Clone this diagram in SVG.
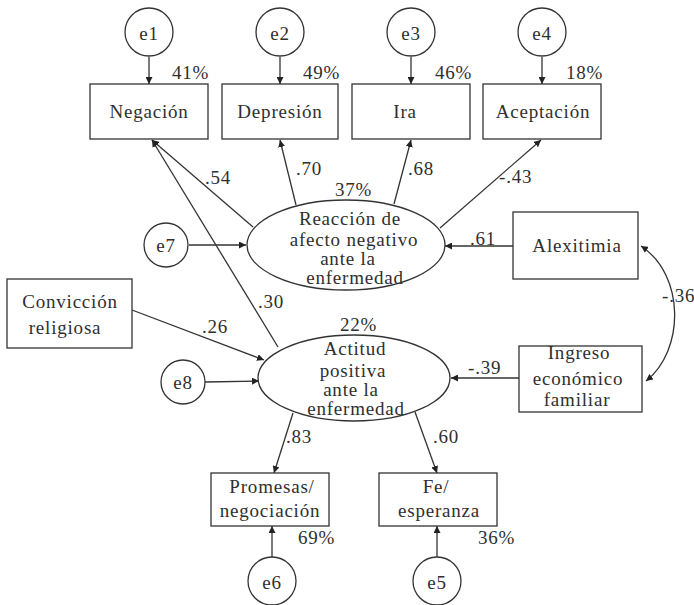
<svg xmlns="http://www.w3.org/2000/svg" width="694" height="605" viewBox="0 0 694 605">
<defs>
<marker id="ah" viewBox="0 0 10 10" refX="10" refY="5" markerWidth="7" markerHeight="7" markerUnits="userSpaceOnUse" orient="auto-start-reverse">
<path d="M0,0 L10,5 L0,10 z" fill="#222"/>
</marker>
<style>
text{font-family:"Liberation Serif","Times New Roman",serif;font-size:19px;fill:#2f2f2f;letter-spacing:0.8px}
.c{text-anchor:middle}
.n rect,.n ellipse,.n circle{fill:#fff;stroke:#333;stroke-width:1.3}
.e line,.e path{stroke:#333;stroke-width:1.3;fill:none;marker-end:url(#ah)}
</style>
</defs>
<rect width="694" height="605" fill="#fff"/>
<g id="connectors" class="e">
<line x1="149" y1="57" x2="149" y2="84"/>
<line x1="280" y1="57" x2="280" y2="84"/>
<line x1="411" y1="57" x2="411" y2="84"/>
<line x1="542" y1="57" x2="542" y2="84"/>
<line x1="253" y1="227" x2="152" y2="140"/>
<line x1="296" y1="205" x2="280" y2="140"/>
<line x1="394" y1="204" x2="411" y2="140"/>
<line x1="440" y1="228" x2="541" y2="140"/>
<line x1="278" y1="347" x2="152" y2="140"/>
<line x1="189" y1="245" x2="246" y2="245"/>
<line x1="205" y1="382" x2="259" y2="381"/>
<line x1="132" y1="310" x2="264" y2="360"/>
<line x1="513" y1="246" x2="445" y2="246"/>
<line x1="519" y1="378" x2="451" y2="378"/>
<line x1="293" y1="413" x2="274" y2="473"/>
<line x1="415" y1="412" x2="437" y2="473"/>
<line x1="272" y1="557" x2="272" y2="526"/>
<line x1="437" y1="557" x2="437" y2="526"/>
<path d="M641,246 C685,275 685,350 646,381" style="marker-start:url(#ah)"/>
</g>
<g id="e1" class="n"><circle cx="149" cy="32" r="24"/><text class="c" x="149" y="40">e1</text></g>
<g id="e2" class="n"><circle cx="280" cy="32" r="24"/><text class="c" x="280" y="40">e2</text></g>
<g id="e3" class="n"><circle cx="411" cy="32" r="24"/><text class="c" x="411" y="40">e3</text></g>
<g id="e4" class="n"><circle cx="542" cy="32" r="24"/><text class="c" x="542" y="40">e4</text></g>
<g id="negacion" class="n"><rect x="90" y="84" width="118" height="55"/><text class="c" x="149" y="118">Negación</text><text x="172" y="79">41%</text></g>
<g id="depresion" class="n"><rect x="222" y="84" width="116" height="55"/><text class="c" x="280" y="118">Depresión</text><text x="303" y="79">49%</text></g>
<g id="ira" class="n"><rect x="352" y="84" width="118" height="55"/><text class="c" x="405" y="118">Ira</text><text x="435" y="79">46%</text></g>
<g id="aceptacion" class="n"><rect x="483" y="84" width="118" height="55"/><text class="c" x="543" y="118">Aceptación</text><text x="566" y="79">18%</text></g>
<g id="e7" class="n"><circle cx="166" cy="245" r="22"/><text class="c" x="166" y="252">e7</text></g>
<g id="e8" class="n"><circle cx="183" cy="382" r="22"/><text class="c" x="183" y="389">e8</text></g>
<g id="reaccion" class="n"><ellipse cx="346" cy="245" rx="99" ry="45"/>
<text x="335" y="196">37%</text>
<text class="c" x="350" y="225">Reacción de</text>
<text class="c" x="354" y="246">afecto negativo</text>
<text class="c" x="348" y="265">ante la</text>
<text class="c" x="355" y="284">enfermedad</text></g>
<g id="actitud" class="n"><ellipse cx="354" cy="378" rx="96" ry="43"/>
<text x="340" y="331">22%</text>
<text class="c" x="355" y="355">Actitud</text>
<text class="c" x="353" y="377">positiva</text>
<text class="c" x="351" y="396">ante la</text>
<text class="c" x="356" y="415">enfermedad</text></g>
<g id="alexitimia" class="n"><rect x="513" y="212" width="125" height="67"/><text class="c" x="577" y="252">Alexitimia</text></g>
<g id="ingreso" class="n"><rect x="519" y="346" width="123" height="66"/>
<text class="c" x="579" y="359">Ingreso</text><text class="c" x="578" y="385">económico</text><text class="c" x="577" y="406">familiar</text></g>
<g id="conviccion" class="n"><rect x="7" y="279" width="125" height="69"/>
<text class="c" x="70" y="308">Convicción</text><text class="c" x="65" y="334">religiosa</text></g>
<g id="promesas" class="n"><rect x="211" y="473" width="118" height="53"/>
<text class="c" x="272" y="493">Promesas/</text><text class="c" x="270" y="517">negociación</text><text x="298" y="544">69%</text></g>
<g id="fe" class="n"><rect x="379" y="473" width="118" height="53"/>
<text class="c" x="436" y="493">Fe/</text><text class="c" x="439" y="517">esperanza</text><text x="478" y="544">36%</text></g>
<g id="e6" class="n"><circle cx="272" cy="581" r="24"/><text class="c" x="272" y="589">e6</text></g>
<g id="e5" class="n"><circle cx="437" cy="581" r="24"/><text class="c" x="437" y="589">e5</text></g>
<g id="labels">
<text x="205" y="184">.54</text>
<text x="296" y="175">.70</text>
<text x="408" y="175">.68</text>
<text x="499" y="183">-.43</text>
<text x="258" y="308">.30</text>
<text x="202" y="333">.26</text>
<text x="470" y="245">.61</text>
<text x="468" y="374">-.39</text>
<text x="662" y="302">-.36</text>
<text x="286" y="443">.83</text>
<text x="433" y="443">.60</text>
</g>
</svg>
